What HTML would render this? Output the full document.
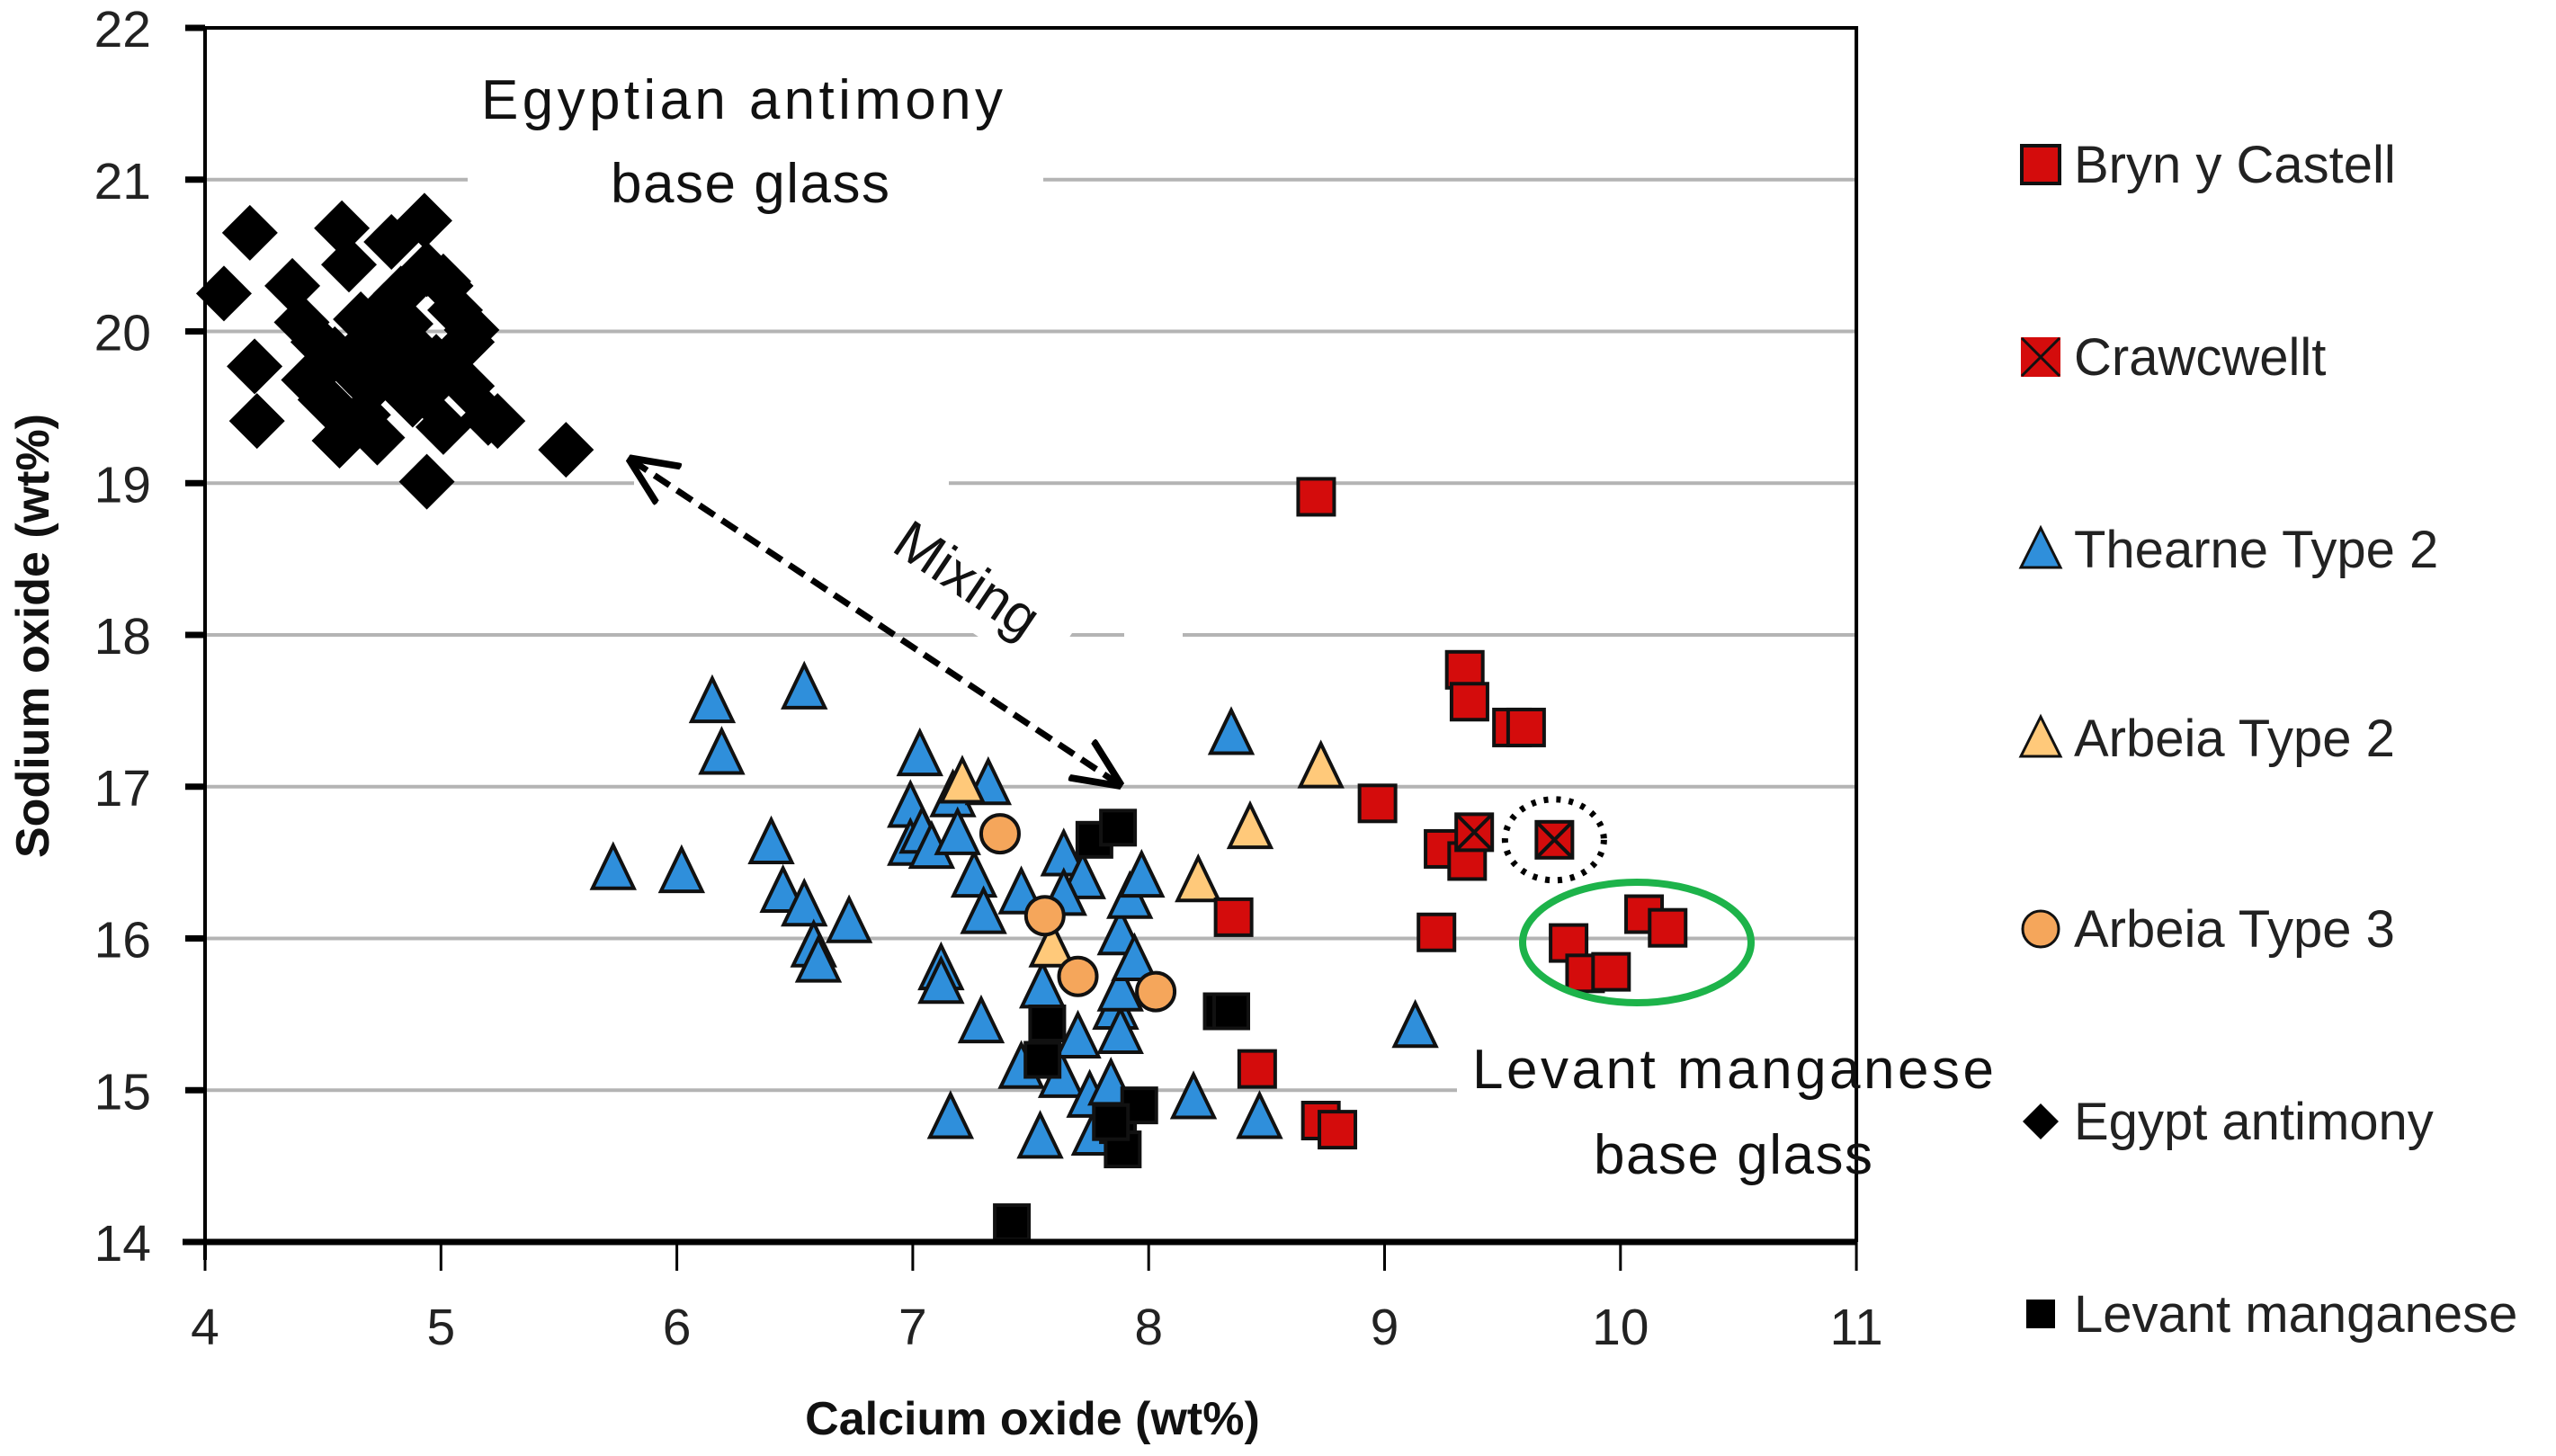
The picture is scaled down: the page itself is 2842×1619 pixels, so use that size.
<!DOCTYPE html>
<html><head><meta charset="utf-8">
<style>
html,body{margin:0;padding:0;background:#fff;}
svg{display:block;font-family:"Liberation Sans",sans-serif;}
</style></head>
<body>
<svg id="chart" width="2842" height="1619" viewBox="0 0 2842 1619">
<g id="grid"></g>
<g id="annot-bg"></g>
<g id="marks"></g>
<g id="axes"></g>
<g id="annot"></g>
<g id="legend"></g>
</svg>
<script>
const xTicks=[4,5,6,7,8,9,10,11];
const yTicks=[14,15,16,17,18,19,20,21,22];
const brynX=[8.71,9.34,9.36,9.54,9.60,8.97,9.25,9.35,8.36,9.22,9.78,9.85,9.96,10.10,10.20,8.46,8.73,8.80];
const brynY=[18.91,17.77,17.56,17.39,17.39,16.89,16.59,16.51,16.14,16.04,15.97,15.77,15.78,16.16,16.07,15.14,14.80,14.74];
const crawX=[9.38,9.72];
const crawY=[16.70,16.65];
const thearneX=[6.15,6.54,6.19,5.73,6.02,6.40,6.45,6.54,6.73,6.58,6.60,7.03,6.99,6.99,7.04,7.17,7.32,7.08,7.26,7.19,7.46,7.64,7.72,7.64,7.88,7.92,7.97,7.12,7.12,7.29,7.16,7.30,7.55,7.56,7.46,7.54,7.63,7.70,7.77,7.75,7.86,7.88,7.88,7.94,8.19,8.47,8.35,9.13,7.84];
const thearneY=[17.56,17.65,17.22,16.46,16.44,16.63,16.31,16.22,16.11,15.95,15.85,17.21,16.87,16.62,16.70,16.94,17.02,16.60,16.41,16.69,16.30,16.55,16.40,16.29,16.03,16.27,16.41,15.80,15.71,15.45,14.82,16.17,15.68,15.35,15.15,14.69,15.09,15.35,14.71,14.96,15.54,15.38,15.66,15.86,14.95,14.82,17.35,15.42,15.04];
const arb2X=[7.21,8.73,8.43,8.21,7.59];
const arb2Y=[17.03,17.13,16.73,16.38,15.95];
const arb3X=[7.37,7.56,7.70,8.03];
const arb3Y=[16.69,16.15,15.75,15.65];
const egyX=[4.08,4.19,4.21,4.22,4.37,4.41,4.44,4.58,4.61,4.66,4.70,4.73,4.79,4.83,4.86,4.88,4.93,4.94,4.98,5.01,4.94,5.06,5.11,5.13,5.20,4.57,4.65,4.48,4.69,4.82,4.76,5.53,4.51,5.02,5.24,5.01,5.11,4.61,4.93,4.55,4.75,4.85,4.67,4.90];
const egyY=[20.25,20.65,19.77,19.41,20.30,20.06,19.68,20.68,20.44,20.08,19.63,19.30,20.59,20.25,19.93,19.55,20.73,20.41,19.80,19.37,19.01,20.14,19.64,20.01,19.43,19.28,19.41,19.93,19.93,19.71,20.14,19.22,19.55,20.30,19.41,20.33,19.93,19.77,19.60,19.85,19.80,20.05,19.45,19.75];
const levX=[7.77,7.87,7.57,7.55,8.31,8.35,7.87,7.89,7.96,7.42,7.84];
const levY=[16.65,16.73,15.44,15.20,15.52,15.52,14.77,14.61,14.90,14.13,14.79];
const legendLabels=["Bryn y Castell","Crawcwellt","Thearne Type 2","Arbeia Type 2","Arbeia Type 3","Egypt antimony","Levant manganese"];

const NS="http://www.w3.org/2000/svg";
const X=v=>228+(v-4)*262.3;
const Y=v=>31+(22-v)*168.75;
function mk(tag,attrs,parent,text){const e=document.createElementNS(NS,tag);for(const k in attrs)e.setAttribute(k,attrs[k]);if(text!==undefined)e.textContent=text;parent.appendChild(e);return e;}
const G=id=>document.getElementById(id);

yTicks.forEach(t=>{if(t===14||t===22)return;
 const l=mk('line',{x1:X(4),x2:X(11),y1:Y(t),y2:Y(t),stroke:'#b4b4b4','stroke-width':4},G('grid'));
 
 
});
[[520,50,640,200],[1620,1150,620,150],[705,515,350,45],[1250,685,65,45]].forEach((r,i)=>{
 const e=mk('rect',{x:r[0],y:r[1],width:r[2],height:r[3],fill:'#fff'},G('annot-bg'));
 
 
});
(function(){const e=mk('rect',{x:-130,y:-45,width:260,height:90,fill:'#fff',transform:'translate(1075,645) rotate(34)'},G('annot-bg'));
 
 })();

const M=G('marks');
function sq(x,y,fill,name,s){const e=mk('rect',{x:x-s/2,y:y-s/2,width:s,height:s,fill:fill,stroke:'#111','stroke-width':4},M);return e;}
function tri(x,y,fill,name,s){const h=s*0.95;const e=mk('polygon',{points:`${x},${y-h/2-4} ${x-s/2},${y+h/2} ${x+s/2},${y+h/2}`,fill:fill,stroke:'#111','stroke-width':4,'stroke-linejoin':'miter'},M);return e;}
function dia(x,y,name,s){const e=mk('polygon',{points:`${x},${y-s/2} ${x+s/2},${y} ${x},${y+s/2} ${x-s/2},${y}`,fill:'#000'},M);return e;}
function circ(x,y,name,r){const e=mk('circle',{cx:x,cy:y,r:r,fill:'#F5A65B',stroke:'#111','stroke-width':4},M);return e;}

egyX.forEach((v,i)=>dia(X(v),Y(egyY[i]),'egypt-antimony-point',62));
thearneX.forEach((v,i)=>tri(X(v),Y(thearneY[i]),'#2F8FDB','thearne-type2-point',46));
arb2X.forEach((v,i)=>tri(X(v),Y(arb2Y[i]),'#FFC97A','arbeia-type2-point',46));
arb3X.forEach((v,i)=>circ(X(v),Y(arb3Y[i]),'arbeia-type3-point',21));
levX.forEach((v,i)=>sq(X(v),Y(levY[i]),'#000','levant-manganese-point',38));
brynX.forEach((v,i)=>sq(X(v),Y(brynY[i]),'#D40C0C','bryn-y-castell-point',40));
crawX.forEach((v,i)=>{const x=X(v),y=Y(crawY[i]);sq(x,y,'#D40C0C','crawcwellt-point',40);
 const p=mk('path',{d:`M${x-18},${y-18}L${x+18},${y+18}M${x+18},${y-18}L${x-18},${y+18}`,stroke:'#111','stroke-width':4},M);
 
 
});

const A=G('annot');
(function(){
 const c=mk('ellipse',{cx:X(9.72),cy:Y(16.65),rx:55,ry:45,fill:'none',stroke:'#000','stroke-width':7,'stroke-dasharray':'5 9'},A);
 
 
 const g=mk('ellipse',{cx:1820,cy:1048,rx:127,ry:67,fill:'none',stroke:'#1DB34A','stroke-width':8},A);
 
 
 const defs=mk('defs',{},A);
 const m=mk('marker',{id:'ah',refX:9,refY:5,orient:'auto-start-reverse',markerUnits:'userSpaceOnUse',viewBox:'0 0 10 10',markerWidth:55,markerHeight:55},defs);
 mk('path',{d:'M0,0.5 L10,5 L0,9.5',fill:'none',stroke:'#000','stroke-width':1.4},m);
 const ar=mk('line',{x1:X(5.81),y1:Y(19.15),x2:X(7.87),y2:Y(17.02),stroke:'#000','stroke-width':7,'stroke-dasharray':'20 10','marker-start':'url(#ah)','marker-end':'url(#ah)'},A);
 
 
 const st={'font-size':62,fill:'#111','text-anchor':'middle'};
 [['Egyptian antimony',825,132,'egyptian-label-line1'],['base glass',834,225,'egyptian-label-line2'],['Levant manganese',1927,1210,'levant-label-line1'],['base glass',1927,1305,'levant-label-line2']].forEach(t=>{
  const e=mk('text',Object.assign({x:t[1],y:t[2],textLength:t[0].length>12?580:310},st),A,t[0]);
  
  
 });
 const mx=mk('text',Object.assign({x:0,y:20,transform:'translate(1075,645) rotate(34)'},st),A,'Mixing');
 
 
})();

const AX=G('axes');
(function(){
 const f=mk('path',{d:`M${X(4)},${Y(22)}H${X(11)}V${Y(14)}`,fill:'none',stroke:'#000','stroke-width':4},AX);
 
 
 const xa=mk('line',{x1:X(4)-25,x2:X(11),y1:Y(14),y2:Y(14),stroke:'#000','stroke-width':7},AX);
 
 
 const ya=mk('line',{x1:X(4),x2:X(4),y1:Y(22),y2:Y(14)+20,stroke:'#000','stroke-width':4},AX);
 
 
 xTicks.forEach(t=>{
  const tk=mk('line',{x1:X(t),x2:X(t),y1:Y(14),y2:Y(14)+32,stroke:'#000','stroke-width':3},AX);
  
  
  const lb=mk('text',{x:X(t),y:1495,'font-size':57,'text-anchor':'middle',fill:'#222'},AX,String(t));
  
  
 });
 yTicks.forEach(t=>{
  const tk=mk('line',{x1:X(4)-22,x2:X(4),y1:Y(t),y2:Y(t),stroke:'#000','stroke-width':7},AX);
  
  
  const lb=mk('text',{x:168,y:Y(t)+21,'font-size':57,'text-anchor':'end',fill:'#222'},AX,String(t));
  
  
 });
 const xt=mk('text',{x:1148,y:1595,'font-size':52,'font-weight':'bold','text-anchor':'middle',fill:'#111'},AX,'Calcium oxide (wt%)');
 
 
 const yt=mk('text',{x:0,y:0,'font-size':52,'font-weight':'bold','text-anchor':'middle',fill:'#111',transform:'translate(54,707) rotate(-90)'},AX,'Sodium oxide (wt%)');
 
 
})();

const L=G('legend');
const legY=[183,397,611,821,1033,1247,1461];
legendLabels.forEach((lab,i)=>{
 const y=legY[i],x=2269;
 let e;
 if(i===0){e=mk('rect',{x:x-21,y:y-21,width:42,height:42,fill:'#D40C0C',stroke:'#111','stroke-width':4},L);}
 else if(i===1){e=mk('rect',{x:x-21,y:y-21,width:42,height:42,fill:'#D40C0C',stroke:'#D40C0C','stroke-width':2},L);
  const c=mk('path',{d:`M${x-21},${y-21}L${x+21},${y+21}M${x+21},${y-21}L${x-21},${y+21}`,stroke:'#111','stroke-width':3},L);
  
  }
 else if(i===2||i===3){e=mk('polygon',{points:`${x},${y-24} ${x-22},${y+20} ${x+22},${y+20}`,fill:i===2?'#2F8FDB':'#FFC97A',stroke:'#111','stroke-width':3},L);}
 else if(i===4){e=mk('circle',{cx:x,cy:y,r:20,fill:'#F5A65B',stroke:'#111','stroke-width':3},L);}
 else if(i===5){e=mk('polygon',{points:`${x},${y-20} ${x+20},${y} ${x},${y+20} ${x-20},${y}`,fill:'#000'},L);}
 else {e=mk('rect',{x:x-16,y:y-16,width:32,height:32,fill:'#000'},L);}
 
 
 const t=mk('text',{x:2306,y:y+20,'font-size':58,fill:'#222'},L,lab);
 
 
});
</script>
</body></html>
